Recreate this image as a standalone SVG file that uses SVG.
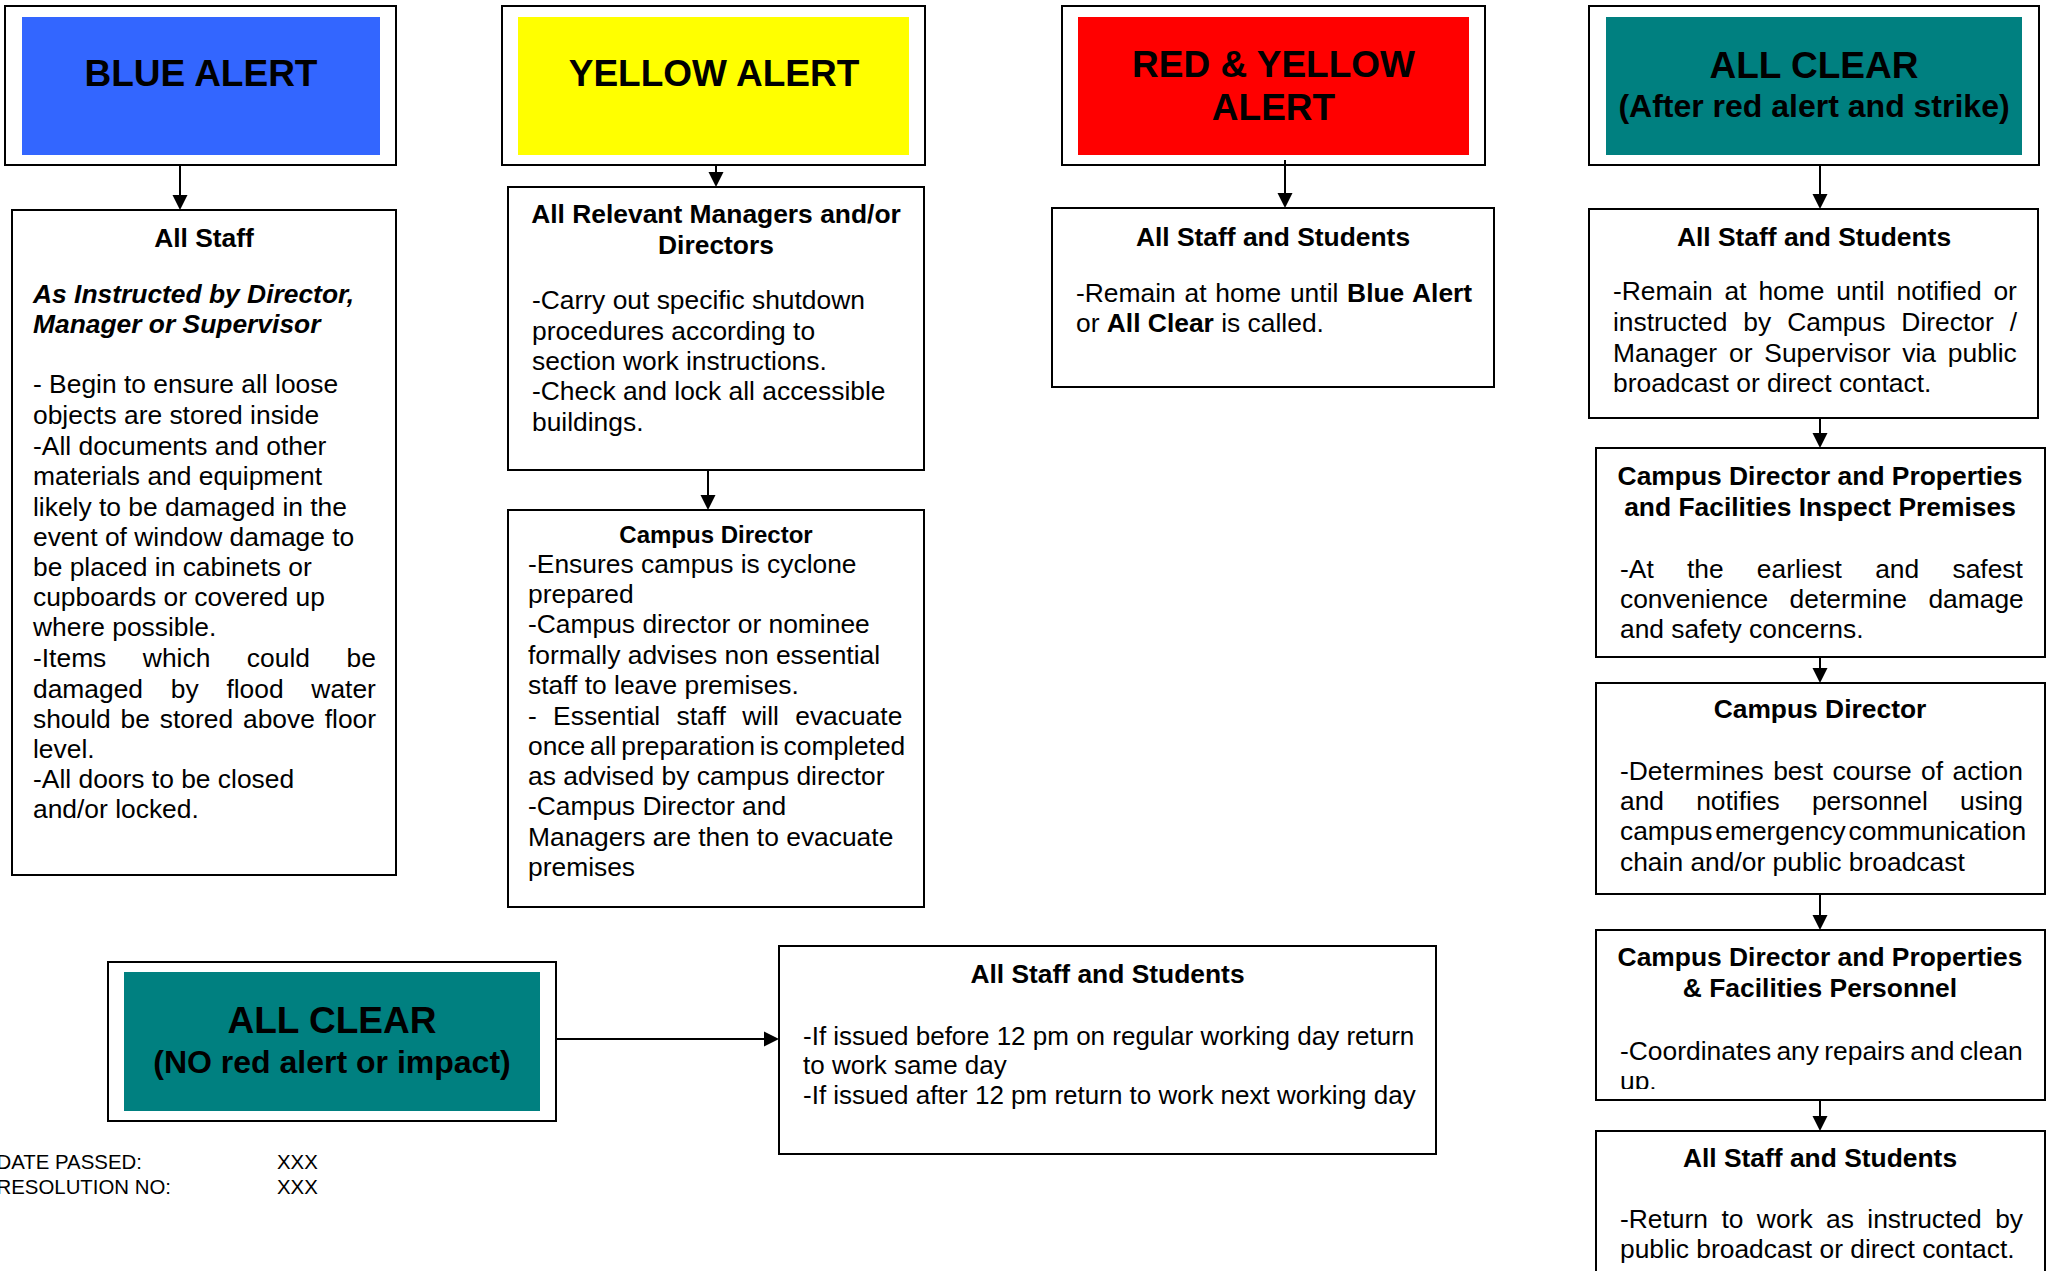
<svg xmlns="http://www.w3.org/2000/svg" width="2051" height="1271" viewBox="0 0 2051 1271">
<defs>
<style>
.frame{fill:#fff;stroke:#000;stroke-width:2}
.box{fill:#fff;stroke:#000;stroke-width:2}
text{font-family:"Liberation Sans",Arial,Helvetica,sans-serif;fill:#000}
.alert{font-size:37px;font-weight:bold;text-anchor:middle}
.sub{font-size:32px;font-weight:bold;text-anchor:middle}
.ttl{font-size:26.4px;font-weight:bold;text-anchor:middle}
.ttl24{font-size:24px;font-weight:bold;text-anchor:middle}
.bd{font-size:26.4px}
.bd26{font-size:26px}
.bi{font-size:26.4px;font-weight:bold;font-style:italic}
.sm{font-size:20.4px}
.b{font-weight:bold}
.conn{fill:none;stroke:#000;stroke-width:2}
</style>
<marker id="ah" markerUnits="userSpaceOnUse" markerWidth="16" markerHeight="16" refX="5" refY="8" orient="auto">
<path d="M0,0.5 L15,8 L0,15.5 z" fill="#000"/>
</marker>
<clipPath id="clipPers"><rect x="1596" y="930" width="449" height="159"/></clipPath>
</defs>

<g id="blue-alert">
<rect class="frame" x="5" y="6" width="391" height="159"/>
<rect x="22" y="17" width="358" height="138" fill="#3366FF"/>
<text class="alert" x="201" y="86">BLUE ALERT</text>
</g>

<g id="yellow-alert">
<rect class="frame" x="502" y="6" width="423" height="159"/>
<rect x="518" y="17" width="391" height="138" fill="#FFFF00"/>
<text class="alert" x="714" y="86">YELLOW ALERT</text>
</g>

<g id="red-yellow-alert">
<rect class="frame" x="1062" y="6" width="423" height="159"/>
<rect x="1078" y="17" width="391" height="138" fill="#FF0000"/>
<text class="alert" x="1273.5" y="77">RED &amp; YELLOW</text>
<text class="alert" x="1273.5" y="120">ALERT</text>
</g>

<g id="all-clear-after">
<rect class="frame" x="1589" y="6" width="450" height="159"/>
<rect x="1606" y="17" width="416" height="138" fill="#008080"/>
<text class="alert" x="1814" y="78">ALL CLEAR</text>
<text class="sub" x="1814" y="117">(After red alert and strike)</text>
</g>

<g id="all-clear-no-red">
<rect class="frame" x="108" y="962" width="448" height="159"/>
<rect x="124" y="972" width="416" height="139" fill="#008080"/>
<text class="alert" x="332" y="1033">ALL CLEAR</text>
<text class="sub" x="332" y="1073">(NO red alert or impact)</text>
</g>

<g id="blue-all-staff">
<rect class="box" x="12" y="210" width="384" height="665"/>
<text class="ttl" x="204" y="247">All Staff</text>
<text class="bi" x="33" y="303">As Instructed by Director,</text>
<text class="bi" x="33" y="333">Manager or Supervisor</text>
<text class="bd" x="33" y="393">- Begin to ensure all loose</text>
<text class="bd" x="33" y="424">objects are stored inside</text>
<text class="bd" x="33" y="455">-All documents and other</text>
<text class="bd" x="33" y="485">materials and equipment</text>
<text class="bd" x="33" y="516">likely to be damaged in the</text>
<text class="bd" x="33" y="546">event of window damage to</text>
<text class="bd" x="33" y="576">be placed in cabinets or</text>
<text class="bd" x="33" y="606">cupboards or covered up</text>
<text class="bd" x="33" y="636">where possible.</text>
<text class="bd" x="33" y="667" word-spacing="29.2">-Items which could be</text>
<text class="bd" x="33" y="698" word-spacing="20.4">damaged by flood water</text>
<text class="bd" x="33" y="728" word-spacing="2.5">should be stored above floor</text>
<text class="bd" x="33" y="758">level.</text>
<text class="bd" x="33" y="788">-All doors to be closed</text>
<text class="bd" x="33" y="818">and/or locked.</text>
</g>

<g id="yellow-managers">
<rect class="box" x="508" y="187" width="416" height="283"/>
<text class="ttl" x="716" y="223">All Relevant Managers and/or</text>
<text class="ttl" x="716" y="254">Directors</text>
<text class="bd" x="532" y="309">-Carry out specific shutdown</text>
<text class="bd" x="532" y="340">procedures according to</text>
<text class="bd" x="532" y="370">section work instructions.</text>
<text class="bd" x="532" y="400">-Check and lock all accessible</text>
<text class="bd" x="532" y="431">buildings.</text>
</g>

<g id="yellow-campus-director">
<rect class="box" x="508" y="510" width="416" height="397"/>
<text class="ttl24" x="716" y="543">Campus Director</text>
<text class="bd" x="528" y="573">-Ensures campus is cyclone</text>
<text class="bd" x="528" y="603">prepared</text>
<text class="bd" x="528" y="633">-Campus director or nominee</text>
<text class="bd" x="528" y="664">formally advises non essential</text>
<text class="bd" x="528" y="694">staff to leave premises.</text>
<text class="bd" x="528" y="725" word-spacing="9">- Essential staff will evacuate</text>
<text class="bd" x="528" y="755" word-spacing="-2.5">once all preparation is completed</text>
<text class="bd" x="528" y="785">as advised by campus director</text>
<text class="bd" x="528" y="815">-Campus Director and</text>
<text class="bd" x="528" y="846">Managers are then to evacuate</text>
<text class="bd" x="528" y="876">premises</text>
</g>

<g id="red-all-staff-students">
<rect class="box" x="1052" y="208" width="442" height="179"/>
<text class="ttl" x="1273" y="246">All Staff and Students</text>
<text class="bd" x="1076" y="302" word-spacing="1.4">-Remain at home until <tspan class="b">Blue Alert</tspan></text>
<text class="bd" x="1076" y="332">or <tspan class="b">All Clear</tspan> is called.</text>
</g>

<g id="after-all-staff-students">
<rect class="box" x="1589" y="209" width="449" height="209"/>
<text class="ttl" x="1814" y="246">All Staff and Students</text>
<text class="bd" x="1613" y="300" word-spacing="4.5">-Remain at home until notified or</text>
<text class="bd" x="1613" y="331" word-spacing="8.6">instructed by Campus Director /</text>
<text class="bd" x="1613" y="362" word-spacing="4.5">Manager or Supervisor via public</text>
<text class="bd" x="1613" y="392">broadcast or direct contact.</text>
</g>

<g id="inspect-premises">
<rect class="box" x="1596" y="448" width="449" height="209"/>
<text class="ttl" x="1820" y="485">Campus Director and Properties</text>
<text class="ttl" x="1820" y="516">and Facilities Inspect Premises</text>
<text class="bd" x="1620" y="578" word-spacing="25.9">-At the earliest and safest</text>
<text class="bd" x="1620" y="608" word-spacing="14.1">convenience determine damage</text>
<text class="bd" x="1620" y="638">and safety concerns.</text>
</g>

<g id="after-campus-director">
<rect class="box" x="1596" y="683" width="449" height="211"/>
<text class="ttl" x="1820" y="718">Campus Director</text>
<text class="bd" x="1620" y="780" word-spacing="2.1">-Determines best course of action</text>
<text class="bd" x="1620" y="810" word-spacing="24.8">and notifies personnel using</text>
<text class="bd" x="1620" y="840" word-spacing="-4.5">campus emergency communication</text>
<text class="bd" x="1620" y="871">chain and/or public broadcast</text>
</g>

<g id="repairs-personnel">
<rect class="box" x="1596" y="930" width="449" height="170"/>
<text class="ttl" x="1820" y="966">Campus Director and Properties</text>
<text class="ttl" x="1820" y="997">&amp; Facilities Personnel</text>
<g clip-path="url(#clipPers)">
<text class="bd" x="1620" y="1060" word-spacing="-2">-Coordinates any repairs and clean</text>
<text class="bd" x="1620" y="1090">up.</text>
</g>
</g>

<g id="return-to-work">
<rect class="box" x="1596" y="1131" width="449" height="170"/>
<text class="ttl" x="1820" y="1167">All Staff and Students</text>
<text class="bd" x="1620" y="1228" word-spacing="6.1">-Return to work as instructed by</text>
<text class="bd" x="1620" y="1258">public broadcast or direct contact.</text>
</g>

<g id="no-red-all-staff-students">
<rect class="box" x="779" y="946" width="657" height="208"/>
<text class="ttl" x="1107.5" y="983">All Staff and Students</text>
<text class="bd26" x="803" y="1045">-If issued before 12 pm on regular working day return</text>
<text class="bd26" x="803" y="1074">to work same day</text>
<text class="bd26" x="803" y="1104">-If issued after 12 pm return to work next working day</text>
</g>

<g id="footer">
<text class="sm" x="-3.5" y="1169">DATE PASSED:</text>
<text class="sm" x="277" y="1169">XXX</text>
<text class="sm" x="-3.5" y="1194">RESOLUTION NO:</text>
<text class="sm" x="277" y="1194">XXX</text>
</g>

<g id="connectors">
<path class="conn" d="M180,165 V200" marker-end="url(#ah)"/>
<path class="conn" d="M716,165 V177" marker-end="url(#ah)"/>
<path class="conn" d="M708,470 V500" marker-end="url(#ah)"/>
<path class="conn" d="M1285,160 V198" marker-end="url(#ah)"/>
<path class="conn" d="M1820,165 V199" marker-end="url(#ah)"/>
<path class="conn" d="M1820,418 V438" marker-end="url(#ah)"/>
<path class="conn" d="M1820,657 V673" marker-end="url(#ah)"/>
<path class="conn" d="M1820,894 V920" marker-end="url(#ah)"/>
<path class="conn" d="M1820,1100 V1121" marker-end="url(#ah)"/>
<path class="conn" d="M556,1039 H769" marker-end="url(#ah)"/>
</g>
</svg>
